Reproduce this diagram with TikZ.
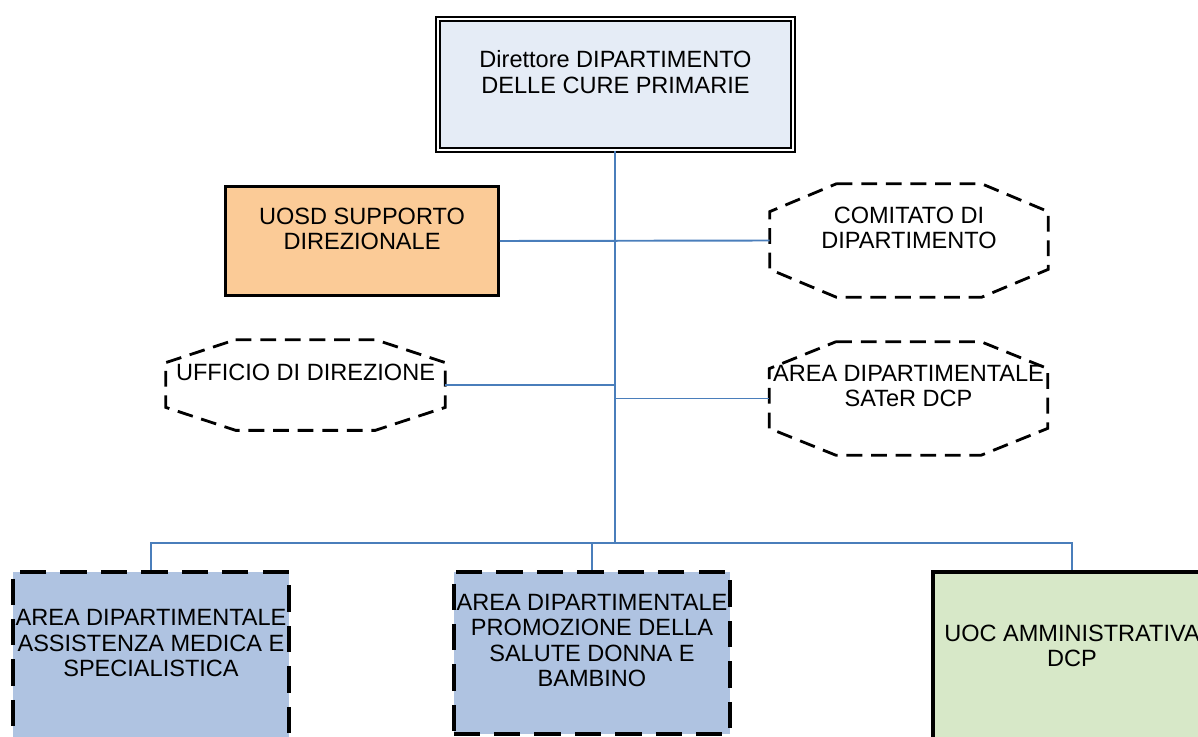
\documentclass[tikz,border=0pt]{standalone}
\usepackage{fontspec}
\setmainfont{Liberation Sans}

\definecolor{headfill}{HTML}{E5ECF6}
\definecolor{staffill}{HTML}{FBCB97}
\definecolor{areafill}{HTML}{AFC3E1}
\definecolor{uocfill}{HTML}{D7E8C8}
\definecolor{linkblue}{HTML}{4A7EBB}

% octagon round a node: name, x cut, y cut
\newcommand{\octaround}[3]{%
  \draw[octa line] ([xshift=#2]#1.north west) -- ([xshift=-#2]#1.north east)
    -- ([yshift=-#3]#1.north east) -- ([yshift=#3]#1.south east)
    -- ([xshift=-#2]#1.south east) -- ([xshift=#2]#1.south west)
    -- ([yshift=#3]#1.south west) -- ([yshift=-#3]#1.north west) -- cycle;}

\begin{document}
\begin{tikzpicture}[x=0.02cm,y=-0.02cm,
    every node/.style={font=\fontsize{13.4}{14.3}\selectfont,align=center,inner sep=0pt},
    head node/.style={rectangle,draw,fill=headfill,double,double distance=1.3pt,
                      line width=1.3pt,minimum width=7.1cm,minimum height=2.62cm},
    staff node/.style={rectangle,draw,fill=staffill,line width=1.5pt,
                       minimum width=5.46cm,minimum height=2.18cm},
    board node/.style={rectangle,minimum width=5.56cm,minimum height=2.26cm},
    octa line/.style={draw,dash pattern=on 9pt off 5pt,line width=1.6pt},
    area node/.style={rectangle,draw,fill=areafill,dash pattern=on 15pt off 8pt,line width=2.3pt,
                      minimum width=5.54cm},
    uoc node/.style={rectangle,draw,fill=uocfill,line width=2pt,minimum width=5.56cm},
    link/.style={draw=linkblue,line width=1.1pt}]

  \clip (0,0) rectangle (1198,737);

  % direzione
  \node[head node] (dir) at (615.5,84.5) {Direttore DIPARTIMENTO\\DELLE CURE PRIMARIE\\\mbox{}};

  % staff e organi
  \node[staff node] (uosd) at (362,241) {UOSD SUPPORTO\\DIREZIONALE\\\mbox{}};
  \node[board node] (comitato) at (909,240.5) {COMITATO DI\\DIPARTIMENTO\\\mbox{}};
  \node[board node,minimum width=5.58cm,minimum height=1.8cm] (ufficio) at (305.5,385)
    {UFFICIO DI DIREZIONE\\\mbox{}};
  \node[board node,minimum height=2.26cm] (sater) at (908.5,398.5) {AREA DIPARTIMENTALE\\SATeR DCP\\\mbox{}};
  \octaround{comitato}{1.34cm}{0.56cm}
  \octaround{ufficio}{1.4cm}{0.46cm}
  \octaround{sater}{1.34cm}{0.54cm}

  % aree e uoc
  \node[area node,minimum height=3.34cm] (assist) at (151,655.5)
    {AREA DIPARTIMENTALE\\ASSISTENZA MEDICA E\\SPECIALISTICA\\\mbox{}};
  \node[area node,minimum height=3.24cm] (donna) at (592,653)
    {AREA DIPARTIMENTALE\\PROMOZIONE DELLA\\SALUTE DONNA E\\BAMBINO\\\mbox{}};
  \node[uoc node,minimum height=3.44cm] (uoc) at (1072,658) {UOC AMMINISTRATIVA\\DCP\\\mbox{}};

  \coordinate (bus) at (615,543);

  \path[link] (dir.south -| bus) -- (bus);
  \path[link] (uosd.east) -- (comitato.west);
  \path[link] (ufficio.east) -- (ufficio.east -| bus);
  \path[link] (sater.west) -- (sater.west -| bus);
  \path[link] (assist.north) |- (bus) -| (uoc.north);
  \path[link] (donna.north |- bus) -- (donna.north);
\end{tikzpicture}
\end{document}
